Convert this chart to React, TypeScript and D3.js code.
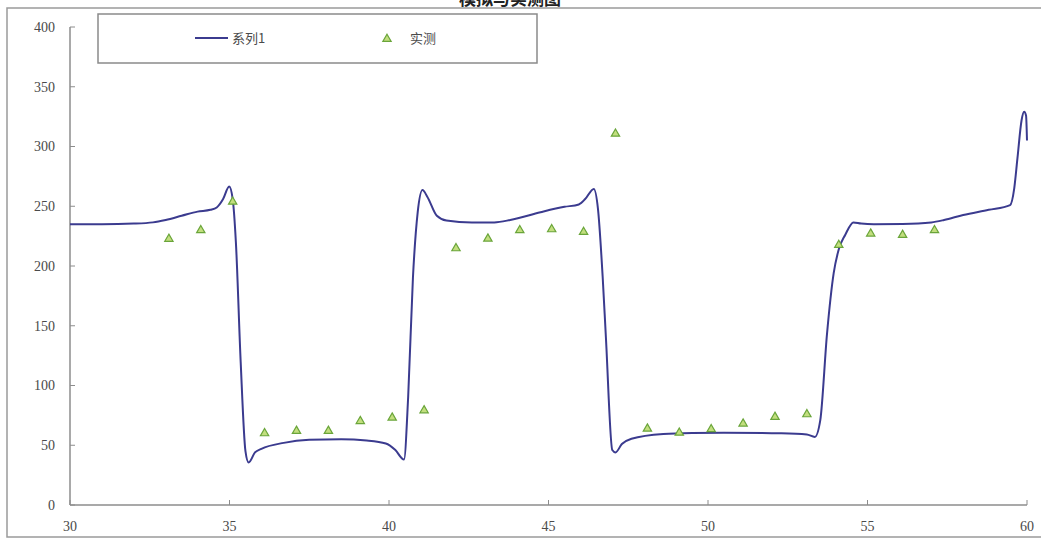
import React from "react";
import * as d3 from "d3";

const W = 1041;
const H = 539;

const xTicks = [30, 35, 40, 45, 50, 55, 60];
const yTicks = [0, 50, 100, 150, 200, 250, 300, 350, 400];

const seriesName = "系列1";
const measuredName = "实测";
const titleText = "模拟与实测图";

const curveX = [
  30, 31, 32, 32.6, 33, 33.5, 34, 34.4, 34.6, 34.8, 34.99, 35.1, 35.2, 35.35, 35.5, 35.6,
  35.8, 36, 36.7, 37.5, 38.5, 39.3, 39.9, 40.2, 40.47, 40.6, 40.75, 40.9, 41.05, 41.2,
  41.5, 41.8, 42.6, 43.3, 43.8, 44.75, 45.5, 45.95, 46.15, 46.42, 46.55, 46.7, 46.8, 47.0,
  47.1, 47.3, 47.6, 48.6, 49.5, 50.5, 52.3, 53.1, 53.35, 53.52, 53.73, 53.94, 54.1, 54.3,
  54.56, 54.8, 55.2, 56.1, 57, 57.4, 58, 58.8, 59.47, 59.6, 59.7, 59.83, 59.91, 59.97, 60.0,
];
const curveY = [
  235, 235, 235.5, 236.5, 238.5, 242, 245.5, 247, 249, 256, 266.5, 256, 220, 120, 45, 35.5,
  44, 47, 52, 54.5, 55, 54, 51.5, 46, 38, 90, 190, 245, 263.5, 258,
  242, 238, 236.3, 236.5, 238.5, 245, 249.5, 251.5, 256, 264.5, 248, 190, 140, 46,
  44, 51, 55.5, 59.5, 60.3, 60.5, 60, 59, 57, 71, 143, 194, 214, 226,
  236.5, 235.5, 235, 235.2, 236.5, 238.5, 242.7, 247, 251, 265, 290, 322, 329, 326, 305,
];

const measuredX = [
  33.1, 34.1, 35.1, 36.1, 37.1, 38.1, 39.1, 40.1, 41.1, 42.1, 43.1, 44.1, 45.1, 46.1, 47.1,
  48.1, 49.1, 50.1, 51.1, 52.1, 53.1, 54.1, 55.1, 56.1, 57.1,
];
const measuredY = [
  223.5, 230.7, 254.6, 60.8, 62.8, 62.8, 71, 73.9, 80, 215.6, 223.7, 230.7, 231.5, 229.3, 311.5,
  64.7, 61.3, 64.2, 68.9, 74.5, 76.7, 218.4, 227.9, 226.8, 230.7,
];

const x = d3.scaleLinear().domain([30, 60]).range([70, 1027]);
const y = d3.scaleLinear().domain([0, 400]).range([505, 27]);

const lineGen = d3
  .line<[number, number]>()
  .x((d) => x(d[0]))
  .y((d) => y(d[1]))
  .curve(d3.curveMonotoneX);

const tri = d3.symbol().type(d3.symbolTriangle).size(30)();

const LINE_COLOR = "#3b3b8f";
const TRI_FILL = "#c2de7e";
const TRI_STROKE = "#6aa53a";
const AXIS = "#8c8c8c";
const LABEL = "#4a4a4a";
const FONT = "'Liberation Serif', 'DejaVu Serif', serif";

export default function App() {
  const curvePts: [number, number][] = curveX.map((v, i) => [v, curveY[i]]);
  const x0 = x(30);
  const x1 = x(60);
  const y0 = y(0);
  const yTop = y(400);
  return (
    <svg
      width={W}
      height={H}
      style={{ position: "absolute", left: 0, top: 0, background: "#fff" }}
    >
      {/* clipped title */}
      <text
        x={510}
        y={5}
        textAnchor="middle"
        fontFamily="'Noto Sans CJK SC', sans-serif"
        fontWeight="bold"
        fontSize={17}
        fill="#222"
      >
        {titleText}
      </text>
      {/* outer frame */}
      <rect x={7} y={8} width={W + 10} height={529} fill="none" stroke="#9a9a9a" strokeWidth={1.5} />

      {/* axes */}
      <line x1={x0} x2={x0} y1={yTop} y2={y0} stroke={AXIS} strokeWidth={1.5} />
      <line x1={x0} x2={x1} y1={y0} y2={y0} stroke={AXIS} strokeWidth={1.5} />
      {yTicks.map((t) => (
        <g key={"y" + t}>
          <line x1={x0} x2={x0 + 5} y1={y(t)} y2={y(t)} stroke={AXIS} strokeWidth={1} />
          <text
            x={55}
            y={y(t)}
            dy="0.35em"
            textAnchor="end"
            fontFamily={FONT}
            fontSize={14}
            fill={LABEL}
          >
            {t}
          </text>
        </g>
      ))}
      {xTicks.map((t) => (
        <g key={"x" + t}>
          <line x1={x(t)} x2={x(t)} y1={y0} y2={y0 - 5} stroke={AXIS} strokeWidth={1} />
          <text
            x={x(t)}
            y={526}
            dy="0.35em"
            textAnchor="middle"
            fontFamily={FONT}
            fontSize={14}
            fill={LABEL}
          >
            {t}
          </text>
        </g>
      ))}

      {/* line series */}
      <path d={lineGen(curvePts) || ""} fill="none" stroke={LINE_COLOR} strokeWidth={2} strokeLinejoin="round" />

      {/* measured triangles */}
      {measuredX.map((v, i) => (
        <path
          key={"m" + i}
          d={tri || ""}
          transform={`translate(${x(v)},${y(measuredY[i]) + 1})`}
          fill={TRI_FILL}
          stroke={TRI_STROKE}
          strokeWidth={1.2}
        />
      ))}

      {/* legend */}
      <rect x={98} y={14} width={439} height={49} fill="#fff" stroke="#8a8a8a" strokeWidth={1.5} />
      <line x1={195} x2={228} y1={38} y2={38} stroke={LINE_COLOR} strokeWidth={2} />
      <text x={232} y={38} dy="0.35em" fontFamily="'Noto Sans CJK SC', sans-serif" fontSize={13} fill={LABEL}>
        {seriesName}
      </text>
      <path d={tri || ""} transform="translate(387,39)" fill={TRI_FILL} stroke={TRI_STROKE} strokeWidth={1.2} />
      <text x={410} y={38} dy="0.35em" fontFamily="'Noto Sans CJK SC', sans-serif" fontSize={13} fill={LABEL}>
        {measuredName}
      </text>
    </svg>
  );
}
